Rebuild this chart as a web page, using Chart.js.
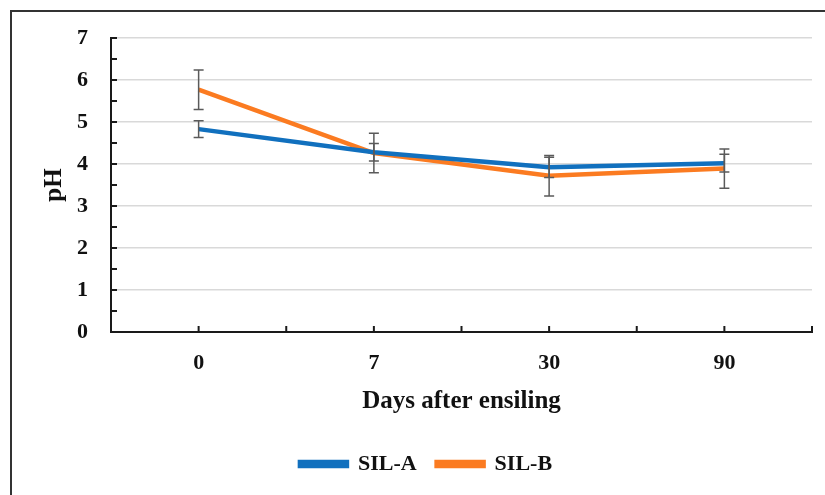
<!DOCTYPE html>
<html>
<head>
<meta charset="utf-8">
<script src="https://cdn.jsdelivr.net/npm/chart.js@4.4.1/dist/chart.umd.min.js"></script>
<style>
    html, body { margin: 0; padding: 0; background: #fff; overflow: hidden; }
    #wrap { position: relative; width: 825px; height: 495px; }
    #frame {
        position: absolute; left: 10px; top: 10px;
        width: 900px; height: 600px;
        border: 2px solid #333;
    }
    canvas { position: absolute; left: 0; top: 0; }
</style>
</head>
<body>
<div id="wrap">
    <div id="frame"></div>
    <canvas id="phChart" width="825" height="495"></canvas>
</div>
<script>
// ==============================
// DATA
// ==============================
const days = ["0", "7", "30", "90"];
const silA = [4.83, 4.28, 3.92, 4.02];
const silB = [5.77, 4.26, 3.72, 3.89];
const errA = [0.2, 0.21, 0.24, 0.21];
const errB = [0.47, 0.47, 0.48, 0.47];
const yTicks = [0, 1, 2, 3, 4, 5, 6, 7];

const FONT = "'Liberation Serif', 'Times New Roman', serif";
const AXIS = "#1a1a1a";

// ==============================
// ERROR BARS + AXIS TICK MARKS
// ==============================
const errorBars = {
    id: "errorBars",
    afterDatasetsDraw(chart) {
        const { ctx, scales: { x, y } } = chart;
        const errs = [errA, errB];
        ctx.save();
        ctx.strokeStyle = "#5a5a5a";
        ctx.lineWidth = 1.5;
        chart.data.datasets.forEach((ds, di) => {
            ds.data.forEach((v, i) => {
                const px = x.getPixelForValue(i);
                const top = y.getPixelForValue(v + errs[di][i]);
                const bot = y.getPixelForValue(v - errs[di][i]);
                ctx.beginPath();
                ctx.moveTo(px, top); ctx.lineTo(px, bot);
                ctx.moveTo(px - 5, top); ctx.lineTo(px + 5, top);
                ctx.moveTo(px - 5, bot); ctx.lineTo(px + 5, bot);
                ctx.stroke();
            });
        });
        ctx.restore();
    },
    afterDraw(chart) {
        const { ctx, scales: { x, y } } = chart;
        const area = chart.chartArea;
        ctx.save();
        ctx.strokeStyle = AXIS;
        ctx.lineWidth = 2;
        ctx.beginPath();
        // y ticks every 0.5, pointing inward
        for (let v = 0; v <= yTicks[yTicks.length - 1]; v += 0.5) {
            const py = y.getPixelForValue(v);
            ctx.moveTo(area.left, py); ctx.lineTo(area.left + 6, py);
        }
        // x ticks at categories and between them
        for (let k = -0.5; k <= days.length - 0.5; k += 0.5) {
            const px = x.getPixelForValue(k);
            ctx.moveTo(px, area.bottom); ctx.lineTo(px, area.bottom - 6);
        }
        ctx.stroke();
        ctx.restore();
    },
};

// ==============================
// CHART
// ==============================
new Chart(document.getElementById("phChart"), {
    type: "line",
    data: {
        labels: days,
        datasets: [
            {
                label: "SIL-A",
                data: silA,
                borderColor: "#1170be",
                backgroundColor: "#1170be",
                borderWidth: 4.5,
                pointRadius: 0,
                tension: 0,
            },
            {
                label: "SIL-B",
                data: silB,
                borderColor: "#fb7b21",
                backgroundColor: "#fb7b21",
                borderWidth: 4.5,
                pointRadius: 0,
                tension: 0,
            },
        ],
    },
    options: {
        responsive: false,
        animation: false,
        layout: { padding: { left: 40, right: 13, top: 38, bottom: 10 } },
        plugins: {
            tooltip: { enabled: false },
            legend: {
                position: "bottom",
                labels: {
                    boxWidth: 47,
                    boxHeight: 4,
                    padding: 20,
                    color: "#111",
                    font: { family: FONT, size: 22, weight: "bold" },
                },
            },
        },
        scales: {
            x: {
                offset: true,
                grid: { display: false, drawTicks: false },
                border: { color: AXIS, width: 2 },
                ticks: {
                    color: "#111",
                    padding: 18,
                    font: { family: FONT, size: 22, weight: "bold" },
                },
                title: {
                    display: true,
                    text: "Days after ensiling",
                    color: "#111",
                    padding: { top: 0, bottom: 16 },
                    font: { family: FONT, size: 25, weight: "bold" },
                },
                afterFit: (scale) => { scale.height = 101; },
            },
            y: {
                min: yTicks[0],
                max: yTicks[yTicks.length - 1],
                afterBuildTicks: (scale) => {
                    scale.ticks = yTicks.map((v) => ({ value: v }));
                },
                grid: {
                    drawTicks: false,
                    lineWidth: 1.5,
                    color: (c) => (c.tick && c.tick.value === 0 ? "rgba(0,0,0,0)" : "#d9d9d9"),
                },
                border: { color: AXIS, width: 2 },
                ticks: {
                    color: "#111",
                    padding: 23,
                    font: { family: FONT, size: 22, weight: "bold" },
                },
                title: {
                    display: true,
                    text: "pH",
                    color: "#111",
                    padding: { top: 0, bottom: 0 },
                    font: { family: FONT, size: 25, weight: "bold" },
                },
                afterFit: (scale) => { scale.width = 71; },
            },
        },
    },
    plugins: [errorBars],
});
</script>
</body>
</html>
